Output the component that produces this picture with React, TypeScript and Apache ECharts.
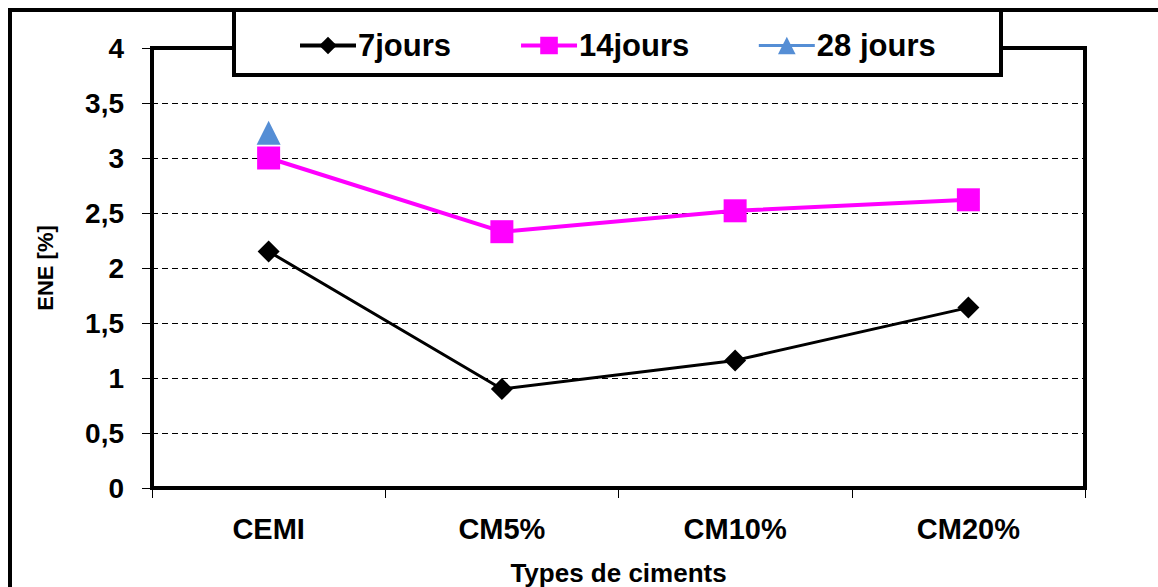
import React, { useEffect, useRef } from "react";
import * as echarts from "echarts";

const categories = ["CEMI", "CM5%", "CM10%", "CM20%"];
const seriesNames = ["7jours", "14jours", "28 jours"];
const values7 = [2.15, 0.9, 1.16, 1.64];
const values14 = [3.0, 2.33, 2.52, 2.62];
const values28 = [3.23, null, null, null];
const yTicks = { min: 0, max: 4, interval: 0.5 };

const FONT = "'Liberation Sans', Arial, sans-serif";

export default function App() {
  const ref = useRef<HTMLDivElement>(null);
  useEffect(() => {
    document.body.style.margin = "0";
    const chart = echarts.init(ref.current!, undefined, { renderer: "svg" });
    chart.setOption({
      animation: false,
      backgroundColor: "#ffffff",
      textStyle: { fontFamily: FONT },
      grid: {
        left: 152,
        top: 48,
        right: 73,
        bottom: 99,
        show: true,
        borderColor: "#000",
        borderWidth: 4,
        containLabel: false,
        outerBoundsMode: "none",
      },
      legend: {
        z: 200,
        left: 293,
        top: 25,
        itemWidth: 56,
        itemHeight: 22,
        itemGap: 68,
        textStyle: { fontSize: 31, fontWeight: "bold", color: "#000", fontFamily: FONT, padding: [0, 0, 0, -3] },
        data: [
          { name: seriesNames[0], lineStyle: { width: 4, color: "#000" } },
          { name: seriesNames[1], lineStyle: { width: 4, color: "#ff00ff" } },
          { name: seriesNames[2], lineStyle: { width: 3, color: "#558ed5" } },
        ],
      },
      graphic: [
        { type: "line", z: 50, shape: { x1: 8, y1: 10, x2: 1158, y2: 10 }, style: { stroke: "#000", lineWidth: 4 } },
        { type: "line", z: 50, shape: { x1: 10, y1: 8, x2: 10, y2: 587 }, style: { stroke: "#000", lineWidth: 4 } },
        {
          type: "rect",
          z: 100,
          shape: { x: 234, y: 10, width: 767, height: 65 },
          style: { fill: "#fff", stroke: "#000", lineWidth: 4 },
        },
      ],
      xAxis: {
        type: "category",
        data: categories,
        boundaryGap: true,
        name: "Types de ciments",
        nameLocation: "middle",
        nameGap: 72,
        nameTextStyle: { fontSize: 26, fontWeight: "bold", color: "#000", fontFamily: FONT },
        axisLine: { lineStyle: { color: "#000", width: 4 } },
        axisTick: { show: true, length: 10, lineStyle: { color: "#000", width: 1 } },
        axisLabel: { fontSize: 29, fontWeight: "bold", color: "#000", margin: 26, fontFamily: FONT },
      },
      yAxis: {
        type: "value",
        min: yTicks.min,
        max: yTicks.max,
        interval: yTicks.interval,
        name: "ENE [%]",
        nameLocation: "middle",
        nameGap: 96,
        nameRotate: 90,
        nameTextStyle: { fontSize: 22, fontWeight: "bold", color: "#000", fontFamily: FONT },
        axisLine: { show: true, lineStyle: { color: "#000", width: 4 } },
        axisTick: { show: true, length: 10, lineStyle: { color: "#000", width: 1 } },
        axisLabel: {
          fontSize: 28,
          fontWeight: "bold",
          color: "#000",
          margin: 28,
          fontFamily: FONT,
          formatter: (v: number) => String(v).replace(".", ","),
        },
        splitLine: { show: true, lineStyle: { color: "#000", width: 1, type: [6, 4] } },
      },
      series: [
        {
          name: seriesNames[0],
          type: "line",
          data: values7,
          symbol: "diamond",
          symbolSize: 22,
          itemStyle: { color: "#000" },
          lineStyle: { color: "#000", width: 3 },
          z: 3,
        },
        {
          name: seriesNames[1],
          type: "line",
          data: values14,
          symbol: "rect",
          symbolSize: 23,
          itemStyle: { color: "#ff00ff" },
          lineStyle: { color: "#ff00ff", width: 4 },
          z: 4,
        },
        {
          name: seriesNames[2],
          type: "line",
          data: values28,
          symbol: "triangle",
          symbolSize: 24,
          itemStyle: { color: "#558ed5" },
          lineStyle: { color: "#558ed5", width: 3 },
          z: 2,
        },
      ],
    });
    return () => chart.dispose();
  }, []);
  return <div ref={ref} style={{ width: 1158, height: 587 }} />;
}
